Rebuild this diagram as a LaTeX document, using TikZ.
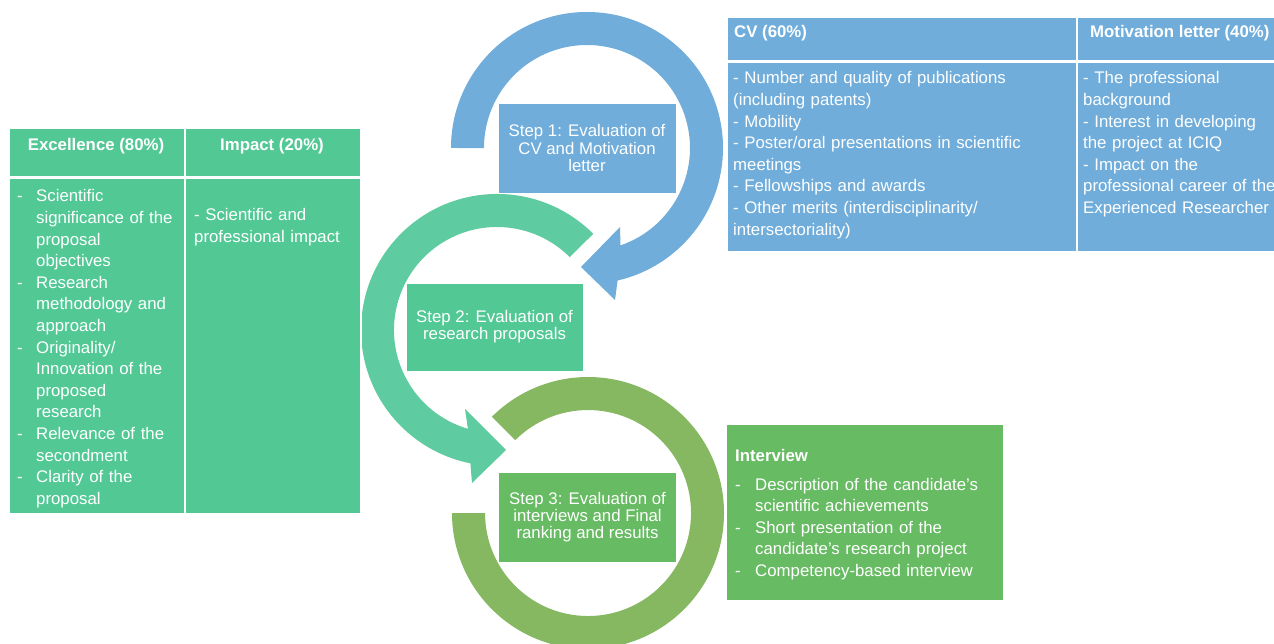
\documentclass[tikz,border=0pt]{standalone}
\usepackage{fontspec}
\setmainfont{Liberation Sans}
\usepackage{tikz}
\usepackage{xcolor}
\definecolor{ColBlue}{RGB}{112,173,218}
\definecolor{ColTeal}{RGB}{94,204,160}
\definecolor{ColGreen}{RGB}{82,201,149}
\definecolor{ColOlive}{RGB}{133,184,96}
\definecolor{ColLeaf}{RGB}{103,187,99}
\newcommand{\BodyFont}{\fontsize{16.8}{21.6}\selectfont}
\newcommand{\StepFont}{\fontsize{16.8}{17.2}\selectfont}
\newcommand{\Dash}[1][19pt]{\hangindent=#1\hangafter=1\makebox[#1][l]{-}}
\tikzstyle{Cell}=[rectangle,draw=white,line width=1.5pt,inner sep=0pt,anchor=north west]
\tikzstyle{StepBox}=[rectangle,draw=white!55,line width=0.8pt,inner sep=0pt,align=center,
text=white,font=\StepFont]
\tikzstyle{HeadText}=[text=white,inner sep=0pt,font=\BodyFont\bfseries]
\tikzstyle{ListText}=[text=white,inner sep=0pt,anchor=base west,align=left,font=\BodyFont]

\begin{document}
\begin{tikzpicture}[x=1pt,y=-1pt]
        \useasboundingbox[fill=white](0,0)rectangle(1274,644);
        % the three rings
        \coordinate(BlueC)at(587,148);
        \coordinate(TealC)at(497,330);
        \coordinate(OliveC)at(588,513);
        \fill[ColBlue](451,148)arc[start angle=180,end angle=437,radius=136]
            --(615,300)--(581,267)--(620,227)--(620.5,245.4)
            arc[start angle=431,end angle=180,radius=103]--cycle;
        \fill[ColTeal](593.2,233.8)arc[start angle=-45,end angle=-258.7,radius=136]
            --(472,483)--(506,450)--(465,409)--(467.9,428.8)
            arc[start angle=-253.6,end angle=-45,radius=103]--cycle;
        \fill[ColOlive](452,513)arc[start angle=180,end angle=-135,radius=136]
            --(515.2,440.2)arc[start angle=-135,end angle=180,radius=103]--cycle;
        \node[StepBox,fill=ColBlue,minimum width=178pt,minimum height=90pt](step1)at(587,148)
            {Step 1: Evaluation of\\CV and Motivation\\letter};
        \node[StepBox,fill=ColGreen,minimum width=177pt,minimum height=88pt](step2)at(494.5,327)
            {Step 2: Evaluation of\\research proposals};
        \node[StepBox,fill=ColLeaf,minimum width=178pt,minimum height=90pt](step3)at(587.5,517)
            {Step 3: Evaluation of\\interviews and Final\\ranking and results};
        % left table
        \node[Cell,fill=ColGreen,minimum width=176pt,minimum height=48pt](exchead)at(8,128){};
        \node[Cell,fill=ColGreen,minimum width=176pt,minimum height=48pt](imphead)at(184,128){};
        \node[Cell,fill=ColGreen,minimum width=176pt,minimum height=335pt](exc)at(8,178){};
        \node[Cell,fill=ColGreen,minimum width=176pt,minimum height=335pt](imp)at(184,178){};
        \node[HeadText,anchor=base](exctitle)at(96,151){Excellence (80\%)};
        \node[HeadText,anchor=base](imptitle)at(272,151){Impact (20\%)};
        \node[ListText,text width=165pt](exclist)at(17,202){%
            \Dash Scientific\newline significance of the\newline proposal\newline objectives\par
            \Dash Research\newline methodology and\newline approach\par
            \Dash Originality/\newline Innovation of the\newline proposed\newline research\par
            \Dash Relevance of the\newline secondment\par
            \Dash Clarity of the\newline proposal\par};
        \node[ListText,text width=165pt](implist)at(194,221){- Scientific and\\professional impact};
        % right table
        \node[Cell,fill=ColBlue,minimum width=350pt,minimum height=43pt](cvhead)at(726,17){};
        \node[Cell,fill=ColBlue,minimum width=214pt,minimum height=43pt](mothead)at(1076,17){};
        \node[Cell,fill=ColBlue,minimum width=350pt,minimum height=189pt](cv)at(726,62){};
        \node[Cell,fill=ColBlue,minimum width=214pt,minimum height=189pt](mot)at(1076,62){};
        \node[HeadText,anchor=base west](cvtitle)at(734,38){CV (60\%)};
        \node[HeadText,anchor=base west](mottitle)at(1090,38){Motivation letter (40\%)};
        \node[ListText,text width=335pt](cvlist)at(733,84){%
            - Number and quality of publications\\(including patents)\\- Mobility\\
            - Poster/oral presentations in scientific\\meetings\\- Fellowships and awards\\
            - Other merits (interdisciplinarity/\\intersectoriality)};
        \node[ListText,text width=205pt](motlist)at(1083,84){%
            - The professional\\background\\- Interest in developing\\the project at ICIQ\\
            - Impact on the\\professional career of the\\Experienced Researcher};
        % interview box
        \node[Cell,fill=ColLeaf,minimum width=278pt,minimum height=177pt](intv)at(725,423){};
        \node[HeadText,anchor=base west](intvtitle)at(735,461){Interview};
        \node[ListText,text width=262pt](intvlist)at(735,490){%
            \Dash[20pt]Description of the candidate’s\newline scientific achievements\par
            \Dash[20pt]Short presentation of the\newline candidate’s research project\par
            \Dash[20pt]Competency-based interview\par};
    \end{tikzpicture}
\end{document}
